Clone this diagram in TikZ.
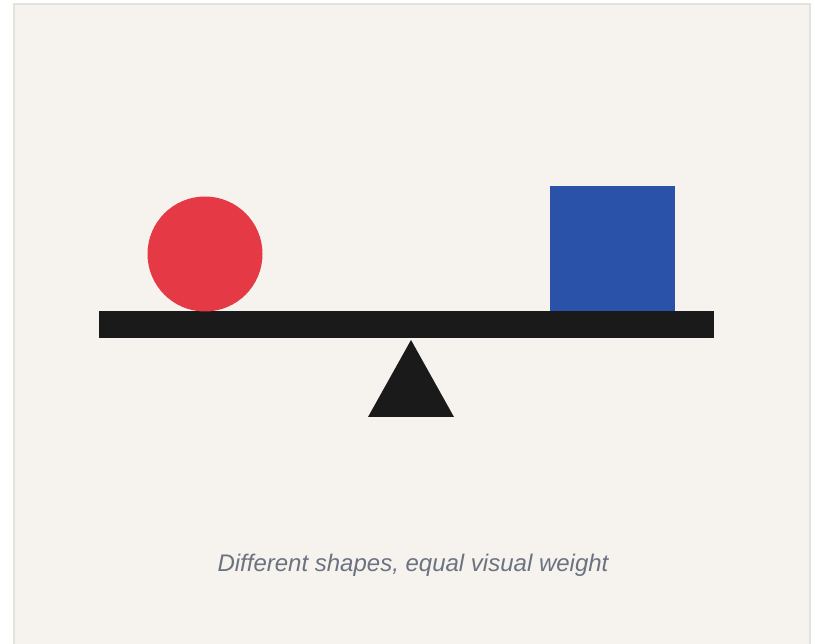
\documentclass[tikz,border=0pt]{standalone}
\usepackage{fontspec}
\setmainfont{Liberation Sans}
\usetikzlibrary{positioning}
\definecolor{paper}{RGB}{246,243,238}
\definecolor{rim}{RGB}{228,226,221}
\definecolor{coal}{RGB}{26,26,26}
\definecolor{cherry}{RGB}{230,57,70}
\definecolor{cobalt}{RGB}{42,82,168}
\definecolor{slate}{RGB}{107,114,128}
\tikzset{
  beam/.style={fill=coal,draw=none},
  weight/.style={fill=#1,draw=none},
  weight/.default=cherry,
  caption/.style={font=\fontsize{24}{28}\selectfont\itshape,text=slate},
}
\begin{document}
\begin{tikzpicture}[x=1pt,y=-1pt]
  \useasboundingbox (0,0) rectangle (815,644);
  \fill[white] (0,0) rectangle (815,644);
  \draw[rim,line width=2pt,fill=paper] (14,4) rectangle (810,660);
  % seesaw
  \fill[beam] (99,311) rectangle (714,338);
  \fill[beam] (411,340) -- (454,417) -- (368,417) -- cycle;
  % weights
  \fill[weight=cherry] (205,254) circle (57.5);
  \fill[weight=cobalt] (550,186) rectangle (675,311);
  \node[caption] (note) at (413,565) {Different shapes, equal visual weight};
\end{tikzpicture}
\end{document}
